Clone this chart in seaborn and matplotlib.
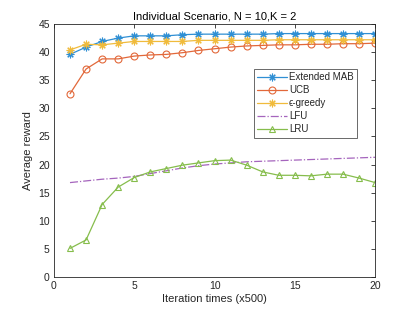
import numpy as np
import pandas as pd
import seaborn as sns
from matplotlib import pyplot as plt

iterations = list(range(1, 21))

extended_mab = [39.6, 40.9, 41.9, 42.5, 42.9, 42.9, 42.9, 43.1, 43.2, 43.2,
                43.2, 43.2, 43.2, 43.3, 43.3, 43.3, 43.3, 43.3, 43.3, 43.3]
ucb = [32.6, 37.0, 38.8, 38.8, 39.3, 39.5, 39.6, 39.9, 40.3, 40.6,
       40.9, 41.1, 41.2, 41.3, 41.3, 41.4, 41.4, 41.5, 41.5, 41.6]
eps_greedy = [40.4, 41.4, 41.3, 41.6, 41.9, 41.9, 41.9, 41.9, 42.1, 42.1,
              42.1, 42.1, 42.1, 42.2, 42.2, 42.2, 42.2, 42.2, 42.2, 42.2]
lfu = [16.8, 17.1, 17.4, 17.6, 17.9, 18.4, 18.9, 19.4, 19.8, 20.1,
       20.3, 20.5, 20.6, 20.7, 20.8, 20.9, 21.0, 21.1, 21.2, 21.3]
lru = [5.1, 6.6, 12.9, 16.0, 17.7, 18.7, 19.3, 19.9, 20.3, 20.7,
       20.8, 19.9, 18.7, 18.1, 18.1, 18.0, 18.3, 18.3, 17.6, 16.8]

series_names = ["Extended MAB", "UCB", "\u03f5-greedy", "LFU", "LRU"]

sns.set_theme(style="white")
plt.rcParams["font.family"] = ["Liberation Sans", "DejaVu Sans"]

fig = plt.figure(figsize=(4.15, 3.12), dpi=100)
ax = fig.add_axes([0.130, 0.112, 0.774, 0.811])

asterisk = (8, 2, 0)
styles = [
    dict(color="#2f8fd4", marker=asterisk, ms=5.5, mfc="#2f8fd4", linestyle="-"),
    dict(color="#e2683a", marker="o", ms=5, mfc="none", linestyle="-"),
    dict(color="#f0bb3c", marker=asterisk, ms=5.5, mfc="#f0bb3c", linestyle="-"),
    dict(color="#a565bd", marker="", ms=0, mfc="none", linestyle="-."),
    dict(color="#86bd4c", marker="^", ms=5, mfc="none", linestyle="-"),
]
values = [extended_mab, ucb, eps_greedy, lfu, lru]

for name, vals, st in zip(series_names, values, styles):
    df = pd.DataFrame({"x": iterations, "y": vals})
    kws = dict(color=st["color"], linestyle=st["linestyle"], linewidth=0.9,
               label=name, ax=ax)
    if st["marker"]:
        kws.update(marker=st["marker"], markersize=st["ms"],
                   markerfacecolor=st["mfc"], markeredgecolor=st["color"],
                   markeredgewidth=0.8)
    sns.lineplot(data=df, x="x", y="y", **kws)

ax.set_xlim(0, 20)
ax.set_ylim(0, 45)
ax.set_xticks(np.arange(0, 21, 5))
ax.set_yticks(np.arange(0, 46, 5))
ax.tick_params(direction="in", length=3, width=0.6, colors="#262626",
               labelsize=7.5, top=True, right=True, pad=3)
for s in ax.spines.values():
    s.set_linewidth(0.6)
    s.set_color("#262626")
ax.set_xlabel("Iteration times (x500)", fontsize=8, color="#262626", labelpad=2)
ax.set_ylabel("Average reward", fontsize=8, color="#262626", labelpad=4)
ax.set_title("Individual Scenario, N = 10,K = 2", fontsize=8, color="#000000", pad=3)

leg = ax.legend(loc="upper left", bbox_to_anchor=(0.623, 0.822), fontsize=7,
                frameon=True, fancybox=False, edgecolor="#262626",
                handlelength=3.0, handletextpad=0.25, borderpad=0.35,
                labelspacing=0.3, borderaxespad=0)
leg.get_frame().set_linewidth(0.6)

fig.savefig("out.png", dpi=100)
